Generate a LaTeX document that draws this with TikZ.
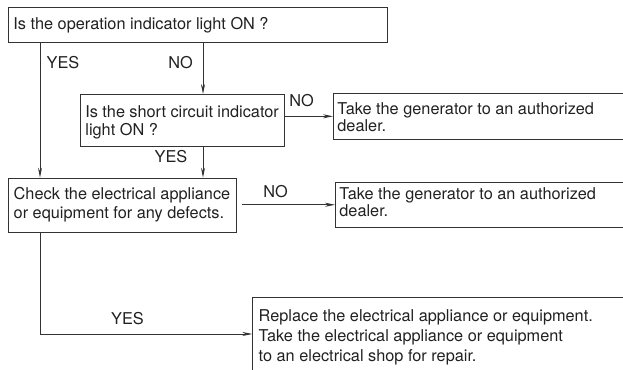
\documentclass[tikz,border=0pt]{standalone}
\usepackage{fontspec}
\setmainfont{TeX Gyre Heros}
\usetikzlibrary{arrows.meta,calc}
\definecolor{lc}{gray}{0.2}
\definecolor{tc}{gray}{0.13}
\newcommand{\bt}[5]{\parbox[b][#1][t]{#2}{\fontsize{16.3}{#5}\selectfont\raggedright\vspace*{\dimexpr#3-0.7\baselineskip\relax}\strut #4}}
\tikzset{
  box/.style={draw=lc, line width=0.8pt, anchor=north west, inner xsep=#1, inner ysep=0pt, text=tc},
  box/.default=5pt,
  lab/.style={inner sep=0pt, text=tc, font=\fontsize{16.3}{18}\selectfont},
  arr/.style={draw=lc, line width=0.8pt, -{Stealth[length=10pt,width=4pt]}},
  ln/.style={draw=lc, line width=0.8pt}
}
\begin{document}
\begin{tikzpicture}[x=1pt,y=-1pt]
\useasboundingbox (0,0) rectangle (623,369);
\clip (0,0) rectangle (623,369);
\node[box=5.5pt] (A) at (7.5,7.5) {\bt{35pt}{368pt}{21.8pt}{Is the operation indicator light ON ?}{18pt}};
\node[box=5pt] (B) at (80,94) {\bt{52pt}{193.5pt}{23pt}{Is the short circuit indicator\\light ON ?}{18.5pt}};
\node[box=4pt] (C) at (333,93.3) {\bt{45.2pt}{320pt}{19pt}{Take the generator to an authorized\\dealer.}{14pt}};
\node[box=5.3pt] (D) at (8,177.7) {\bt{54pt}{217pt}{21.6pt}{Check the electrical appliance\\or equipment for any defects.}{19pt}};
\node[box=4pt] (E) at (335,181.7) {\bt{45.3pt}{320pt}{15pt}{Take the generator to an authorized\\dealer.}{14pt}};
\node[box=6pt] (F) at (252.3,297.3) {\bt{100pt}{400pt}{24pt}{Replace the electrical appliance or equipment.\\Take the electrical appliance or equipment\\to an electrical shop for repair.}{20pt}};

\draw[arr] ([xshift=32.5pt]A.south west) -- ([xshift=32pt]D.north west);
\draw[arr] ([xshift=195.5pt]A.south west) -- ([xshift=123pt]B.north west);
\draw[arr] (B.east |- C.west) -- (C.west);
\draw[arr] ([xshift=123pt]B.south west) -- ([xshift=195pt]D.north west);
\draw[arr] ($(D.east |- E.west)+(6,0)$) -- (E.west);
\draw[arr] ([xshift=32pt]D.south west) |- ([yshift=-36.7pt]F.north west);

\node[lab] (y1) at (63,62.5) {YES};
\node[lab] (n1) at (180.5,62.5) {NO};
\node[lab] (n2) at (301.5,100.5) {NO};
\node[lab] (y2) at (171,156.5) {YES};
\node[lab] (n3) at (275.5,191.3) {NO};
\node[lab] (y3) at (127.5,318.5) {YES};
\end{tikzpicture}
\end{document}
